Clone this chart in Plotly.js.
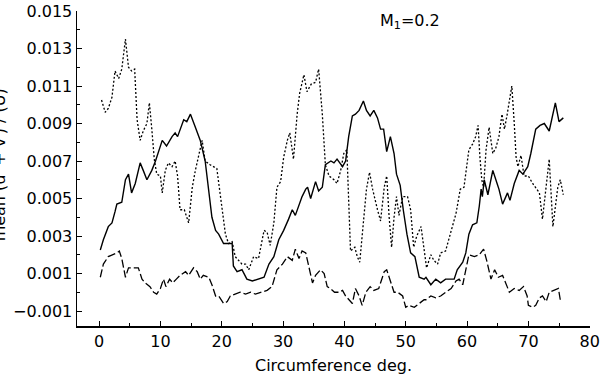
<!DOCTYPE html>
<html>
<head>
<meta charset="utf-8">
<script src="https://cdn.plot.ly/plotly-3.0.1.min.js"></script>
<style>html,body{margin:0;padding:0;background:#fff;}#chart{width:611px;height:386px;}</style>
</head>
<body>
<div id="chart"></div>
<script>
// Circumferential position (deg) and values for each trace
const solidX = [0.2,0.7,1.5,2.1,2.6,2.9,3.7,4.3,4.8,5.3,5.9,6.7,7.2,7.8,8.6,9.2,10.3,11.0,11.9,12.4,12.8,13.8,14.3,14.9,15.7,16.5,17.3,17.9,18.4,19.0,19.5,20.3,21.1,21.7,21.9,22.5,23.3,24.1,25.0,25.8,26.9,27.7,28.5,29.3,30.1,30.9,31.5,32.0,32.6,33.1,33.7,34.0,34.5,35.3,35.8,36.4,36.9,37.8,38.3,38.8,39.7,40.2,40.7,41.3,41.8,42.4,43.1,43.6,44.2,44.8,45.4,45.9,46.4,46.9,47.5,48.1,48.5,49.1,49.6,50.2,50.8,51.5,52.2,53.0,53.3,54.1,54.9,55.7,56.5,57.4,57.9,58.4,59.3,59.8,60.3,60.9,61.6,62.0,62.3,62.5,62.8,63.4,64.2,64.9,65.2,65.8,66.6,67.0,67.7,68.5,69.1,69.9,70.4,71.2,71.9,72.6,73.4,74.4,75.0,75.7];
const solidY = [0.00225,0.0028,0.0035,0.0037,0.0043,0.0047,0.0048,0.0060,0.0063,0.0053,0.0058,0.0069,0.0065,0.0060,0.0065,0.0070,0.0081,0.0078,0.0083,0.0085,0.0083,0.0092,0.0091,0.0095,0.0088,0.0081,0.0070,0.0055,0.0040,0.0033,0.0031,0.0026,0.0026,0.0026,0.0014,0.0011,0.0012,0.0007,0.0006,0.0007,0.0008,0.0015,0.0019,0.0028,0.0033,0.0039,0.0044,0.0041,0.0047,0.0051,0.0055,0.0056,0.0050,0.0059,0.0054,0.0056,0.0068,0.0070,0.0069,0.0071,0.0067,0.0070,0.0083,0.0094,0.0095,0.0097,0.0102,0.0097,0.0094,0.0097,0.0093,0.0087,0.0087,0.0075,0.0083,0.0074,0.0063,0.0057,0.0044,0.0031,0.0021,0.0019,0.0008,0.0007,0.0008,0.0004,0.0007,0.0005,0.0007,0.0007,0.0007,0.0012,0.0016,0.0021,0.0031,0.0036,0.0037,0.0046,0.0055,0.0051,0.0060,0.0052,0.0065,0.0058,0.0055,0.0047,0.0053,0.0049,0.0058,0.0065,0.0063,0.0067,0.0074,0.0087,0.0089,0.0090,0.0086,0.0101,0.0091,0.0093];

const dotX = [0.4,1.0,1.5,2.1,2.6,3.2,3.7,4.3,4.8,5.3,5.8,6.2,6.7,7.2,7.8,8.2,8.6,9.0,9.4,10.0,10.3,10.8,11.3,11.9,12.4,12.8,13.2,13.9,14.6,15.2,15.7,16.2,16.8,17.3,18.1,19.2,19.5,20.0,20.6,21.1,21.7,22.2,22.8,23.3,23.9,24.4,25.2,26.0,26.9,27.4,27.9,28.5,29.0,29.6,30.1,30.7,31.1,31.7,32.3,32.7,33.4,33.9,34.6,35.3,35.8,36.4,36.9,37.5,38.3,38.8,39.4,39.9,40.4,40.7,41.0,41.7,42.1,42.5,43.2,43.6,44.1,44.6,45.4,45.9,46.5,46.9,47.3,47.7,48.1,48.5,48.9,49.5,50.3,50.8,51.3,51.8,52.5,53.0,53.4,54.1,54.6,55.2,55.7,56.5,57.4,58.2,58.9,59.5,60.3,60.9,61.4,61.8,62.1,62.4,62.7,63.1,63.6,64.2,64.7,65.2,65.7,66.1,66.5,66.9,67.3,67.7,68.0,68.3,68.8,69.3,70.0,70.7,71.2,71.8,72.3,72.9,73.4,74.0,74.8,75.2,75.7];
const dotY = [0.01025,0.0096,0.0098,0.0104,0.0118,0.0114,0.0119,0.0135,0.0120,0.0118,0.0119,0.0092,0.0081,0.0086,0.0090,0.0101,0.0087,0.0071,0.0063,0.0062,0.0053,0.0065,0.0069,0.0067,0.0070,0.0062,0.0044,0.0044,0.0037,0.0056,0.0065,0.0072,0.0081,0.0070,0.0068,0.0066,0.0058,0.0044,0.0031,0.0026,0.0027,0.0019,0.0017,0.0015,0.0015,0.0012,0.0019,0.0018,0.0033,0.0032,0.0025,0.0037,0.0056,0.0059,0.0072,0.0081,0.0085,0.0071,0.0095,0.0106,0.0116,0.0107,0.0111,0.0112,0.0119,0.0095,0.0068,0.0062,0.0060,0.0058,0.0065,0.0074,0.0076,0.0047,0.0022,0.0024,0.0019,0.0016,0.0039,0.0055,0.0064,0.0055,0.0044,0.0038,0.0056,0.0062,0.0040,0.0024,0.0040,0.0051,0.0041,0.0051,0.0051,0.0044,0.0024,0.0030,0.0035,0.0024,0.0013,0.0020,0.0017,0.0015,0.0021,0.0022,0.0032,0.0042,0.0055,0.0056,0.0076,0.0079,0.0083,0.0089,0.0072,0.0060,0.0056,0.0076,0.0088,0.0074,0.0077,0.0083,0.0095,0.0087,0.0094,0.0102,0.0110,0.0090,0.0072,0.0067,0.0073,0.0062,0.0062,0.0058,0.0056,0.0053,0.0039,0.0055,0.0071,0.0035,0.0056,0.0060,0.0052];

const dashX = [0.2,0.7,1.5,2.3,2.9,3.3,3.7,4.3,4.8,5.6,6.4,7.0,7.5,8.3,8.9,9.4,10.0,10.5,10.9,11.5,12.0,12.6,13.2,14.1,14.6,15.4,16.0,16.5,17.0,17.9,18.4,19.0,19.5,20.3,20.9,21.4,22.2,23.0,23.9,24.7,25.5,26.3,27.4,28.2,29.0,29.9,30.7,31.5,32.0,32.6,33.1,33.7,34.2,34.8,35.3,36.1,36.7,37.2,37.7,38.4,39.1,39.7,40.2,40.7,41.3,41.8,42.4,42.9,43.5,44.2,44.8,45.6,46.5,46.9,47.5,48.1,48.7,49.5,50.0,50.5,51.4,52.2,53.0,53.3,54.1,54.9,55.7,56.5,57.4,58.2,58.7,59.3,59.8,60.3,61.2,62.0,62.7,63.2,63.9,64.5,65.1,65.8,66.3,66.9,67.7,68.5,69.2,69.8,70.0,70.7,71.2,71.8,72.3,72.9,73.4,74.2,74.9,75.2];
const dashY = [0.0008,0.0015,0.0019,0.0020,0.0021,0.0022,0.0018,0.0008,0.0013,0.0013,0.0013,0.0007,0.0005,0.0003,0.0000,-0.0001,0.0002,0.0007,0.0003,0.0007,0.0005,0.0007,0.0009,0.0011,0.0009,0.0013,0.0011,0.0007,0.0009,0.0008,0.0004,-0.0002,-0.0002,-0.0006,-0.0005,-0.0002,-0.0001,0.0000,-0.0001,0.0000,-0.0001,0.0000,0.0001,0.0003,0.0012,0.0015,0.0019,0.0017,0.0023,0.0018,0.0022,0.0021,0.0014,0.0005,0.0009,0.0012,0.0010,0.0003,0.0002,0.0000,0.0000,0.0001,-0.0002,-0.0004,-0.0006,0.0002,-0.0002,-0.0007,0.0000,0.0003,0.0001,0.0002,0.0011,0.0012,0.0006,0.0000,0.0000,-0.0002,-0.0008,-0.0007,-0.0008,-0.0006,-0.0004,-0.0004,-0.0002,-0.0003,-0.0002,0.0000,0.0002,0.0006,0.0007,0.0004,0.0012,0.0020,0.0019,0.0020,0.0023,0.0017,0.0007,0.0012,0.0008,0.0009,0.0005,0.0000,0.0002,0.0001,0.0003,-0.0002,-0.0007,-0.0008,-0.0007,-0.0003,-0.0002,-0.0005,0.0000,0.0001,0.0002,-0.0004];

const yTicks = [-0.001,0.001,0.003,0.005,0.007,0.009,0.011,0.013,0.015];
const xTicks = [0,10,20,30,40,50,60,70,80];

const fontFam = 'DejaVu Sans, sans-serif';
const line = (w, dash) => ({color:'#000', width:w, dash:dash});

const traces = [
  {x: solidX, y: solidY, mode:'lines', line: line(1.4,'solid'), name:'solid'},
  {x: dotX, y: dotY, mode:'lines', line: line(1.3,'2px,2px'), name:'dotted'},
  {x: dashX, y: dashY, mode:'lines', line: line(1.3,'8px,3px'), name:'dashed'}
];

const layout = {
  width: 611, height: 386,
  margin: {l:77, r:21, t:11, b:60, pad:0},
  paper_bgcolor:'#fff', plot_bgcolor:'#fff',
  showlegend:false,
  font:{family:fontFam, color:'#000', size:16},
  xaxis:{
    range:[-3.6, 80.05], showgrid:false, zeroline:false,
    showline:true, linecolor:'#000', linewidth:1.5, mirror:false,
    tickvals:xTicks, ticks:'inside', ticklen:5, tickcolor:'#000', tickwidth:1,
    minor:{dtick:5, tick0:0, ticks:'inside', ticklen:3, tickcolor:'#000', showgrid:false},
    tickfont:{size:16, family:fontFam},
    title:{text:'Circumference deg.', font:{size:16, family:fontFam}, standoff:10}
  },
  yaxis:{
    range:[-0.0018, 0.015], showgrid:false, zeroline:false,
    showline:true, linecolor:'#000', linewidth:1.5, mirror:false,
    tickvals:yTicks, tickformat:'.3f', ticks:'inside', ticklen:5, tickcolor:'#000', tickwidth:1,
    minor:{dtick:0.001, tick0:0, ticks:'inside', ticklen:3, tickcolor:'#000', showgrid:false},
    tickfont:{size:16, family:fontFam}
  },
  annotations:[
    {xref:'paper', yref:'paper', x:0.649, y:0.968, xanchor:'center', yanchor:'middle',
     text:'M<sub>1</sub>=0.2', showarrow:false, font:{size:16, family:fontFam}},
    {xref:'paper', yref:'paper', x:-0.152, y:0.51, xanchor:'center', yanchor:'middle',
     text:'mean (u′ + v′) / (U)', textangle:-90, showarrow:false, font:{size:16, family:fontFam}}
  ]
};

Plotly.newPlot('chart', traces, layout, {staticPlot:true, displayModeBar:false});
</script>
</body>
</html>
